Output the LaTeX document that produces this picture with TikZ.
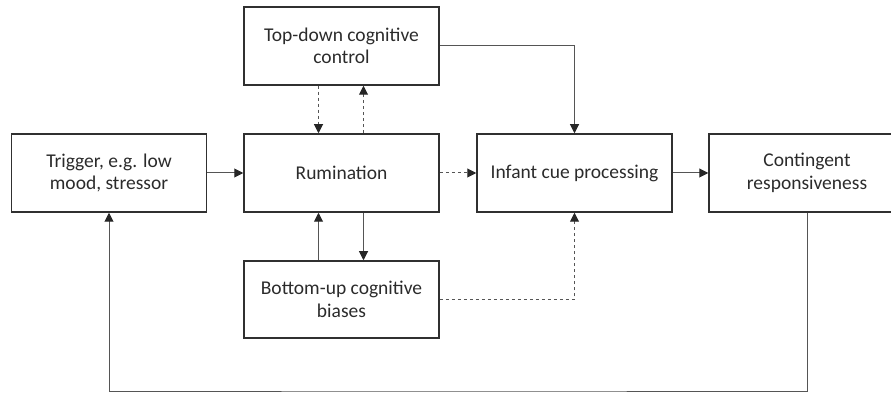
\documentclass[tikz,border=0pt]{standalone}
\usepackage{fontspec}
\setmainfont{Carlito}
\usetikzlibrary{arrows.meta}
\definecolor{boxline}{HTML}{303030}
\definecolor{txt}{HTML}{2B2B2B}
\definecolor{conn}{HTML}{555555}
\begin{document}
\begin{tikzpicture}[x=1pt,y=-1pt,
  blk/.style={draw=boxline, line width=1.5pt, minimum width=195pt, minimum height=78pt,
    inner sep=0pt, align=center, text=txt, font=\fontsize{19.5}{22.5}\selectfont},
  arr/.style={draw=conn, line width=1pt, -{Triangle[length=9pt,width=9pt,color=black!85]}},
  dsh/.style={dash pattern=on 3pt off 3pt}]
\useasboundingbox (0,0) rectangle (891,395);
\clip (0,0) rectangle (891,395);
\node[blk] (trig) at (109,173) {Trigger, e.g. low\\mood, stressor};
\node[blk] (rum)  at (341.5,173) {Rumination};
\node[blk] (inf)  at (574.5,173) {Infant cue processing};
\node[blk, minimum width=196pt] (cont) at (807,173) {Contingent\\responsiveness};
\node[blk] (top)  at (341.5,46) {Top-down cognitive\\control};
\node[blk, minimum height=77pt] (bot) at (341.5,299.5) {Bottom-up cognitive\\biases};
\coordinate (low) at (450,391);
\draw[arr] (trig.east) -- (rum.west);
\draw[arr,dsh] (rum.east) -- (inf.west);
\draw[arr] (inf.east) -- (cont.west);
\draw[arr,dsh] ([xshift=-23pt]top.south) -- ([xshift=-23pt]rum.north);
\draw[arr,dsh] ([xshift=22pt]rum.north) -- ([xshift=22pt]top.south);
\draw[arr] (top.east) -| (inf.north);
\draw[arr] ([xshift=-23pt]bot.north) -- ([xshift=-23pt]rum.south);
\draw[arr] ([xshift=22pt]rum.south) -- ([xshift=22pt]bot.north);
\draw[arr,dsh] (bot.east) -| (inf.south);
\draw[arr] (cont.south) |- (low) -| (trig.south);
\end{tikzpicture}
\end{document}
